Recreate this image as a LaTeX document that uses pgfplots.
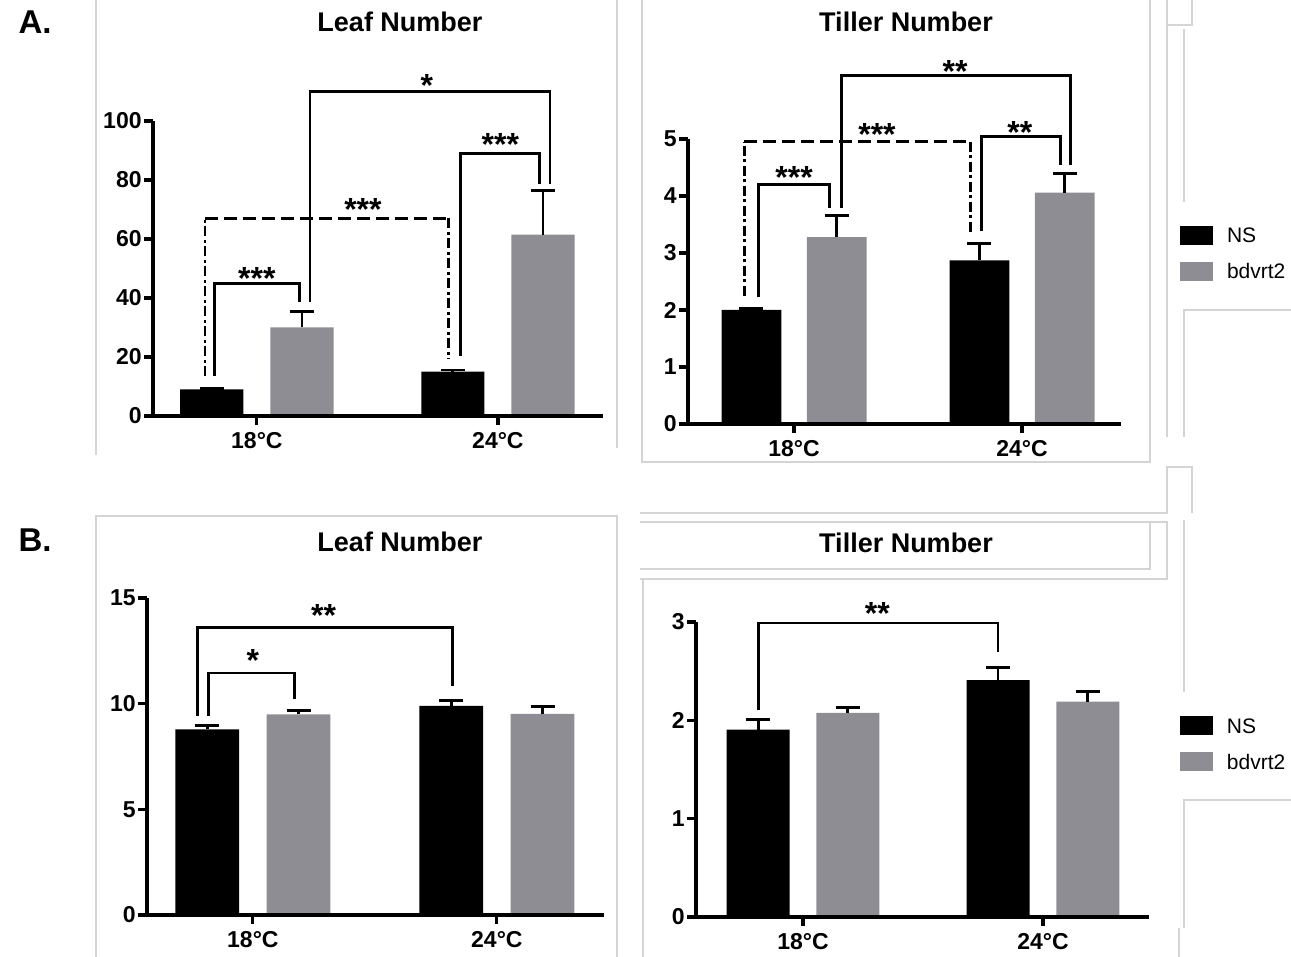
\documentclass[border=0pt]{standalone}
\usepackage{fontspec}
\setmainfont{Liberation Sans}
\usepackage{pgfplots}
\pgfplotsset{compat=1.18}
\definecolor{bargray}{RGB}{141,141,147}
\definecolor{framegray}{RGB}{212,212,212}

\pgfplotsset{
  gpstyle/.style={
    scale only axis,
    anchor=south west,
    axis lines=left,
    axis line style={line width=1.6pt,-},
    axis on top,
    clip=false,
    ymin=0,
    xtick={0,1},
    xticklabels={18°C,24°C},
    tick align=outside,
    major tick length=4.5pt,
    every tick/.style={line width=1.6pt,black},
    minor tick num=0,
    ticklabel style={font=\bfseries\fontsize{11.5}{12}\selectfont},
    yticklabel style={inner xsep=1pt},
    /pgf/number format/assume math mode=true,
    ybar, bar width=0.262,
    error bars/y dir=plus,
    error bars/y explicit,
    error bars/error bar style={draw=black,line width=1.4pt,solid},
    error bars/error mark options={rotate=90,draw=black,line width=1.4pt,mark size=6pt,solid},
    legend cell align=left,
    legend style={draw=none,fill=none,inner sep=0pt,outer sep=0pt,
      row sep=8.5pt,column sep=7pt,
      font=\fontsize{10.5}{11}\selectfont,
      nodes={inner sep=0pt,text height=8pt,text depth=1pt}},
  },
  nsbar/.style={fill=black,draw=none,bar shift=-0.187,
    legend image code/.code={\fill[black] (0pt,-4.5pt) rectangle (16.5pt,5pt);}},
  bdbar/.style={fill=bargray,draw=none,bar shift=0.187,
    legend image code/.code={\fill[bargray] (0pt,-4.5pt) rectangle (16.5pt,5pt);}},
}
\tikzset{
  brk/.style={line width=1.4pt,line join=miter},
  dbrkh/.style={line width=1.4pt,dash pattern=on 6.5pt off 3pt},
  dbrkv/.style={line width=1.4pt,dash pattern=on 5pt off 1.8pt on 1.4pt off 1.8pt},
  star/.style={font=\bfseries\fontsize{16}{16}\selectfont,anchor=base,yshift=-9.2pt,inner sep=0pt},
}

\begin{document}
\begin{tikzpicture}

% ---------- A: Leaf Number ----------
\begin{axis}[gpstyle,at={(76.5pt,270.5pt)},width=225pt,height=147.5pt,
  xmin=-0.431,xmax=1.436,ymax=100,ytick={0,20,40,60,80,100}]
\addplot[nsbar] coordinates {(0,9) +- (0,0.3) (1,15) +- (0,0.6)};
\addplot[bdbar] coordinates {(0,30) +- (0,5.5) (1,61.5) +- (0,15)};
\draw[brk] (axis cs:-0.177,13.5) -- (axis cs:-0.177,45) -- (axis cs:0.177,45) -- (axis cs:0.177,38.5);
\draw[dbrkv] (axis cs:-0.215,13.5) -- (axis cs:-0.215,67);
\draw[dbrkh] (axis cs:-0.215,67) -- (axis cs:0.794,67);
\draw[dbrkv] (axis cs:0.794,67) -- (axis cs:0.794,19.5);
\draw[brk] (axis cs:0.22,38.5) -- (axis cs:0.22,110) -- (axis cs:1.216,110) -- (axis cs:1.216,78.5);
\draw[brk] (axis cs:0.845,20.5) -- (axis cs:0.845,89) -- (axis cs:1.174,89) -- (axis cs:1.174,78.5);
\node[star] at (axis cs:0,49) {***};
\node[star] at (axis cs:0.44,72.5) {***};
\node[star] at (axis cs:0.705,114.5) {*};
\node[star] at (axis cs:1.01,94.5) {***};
\end{axis}

% ---------- A: Tiller Number ----------
\begin{axis}[gpstyle,at={(344pt,266.5pt)},width=216.5pt,height=142.5pt,
  xmin=-0.465,xmax=1.434,ymax=5,ytick={0,1,2,3,4,5},
  legend style={at={(axis description cs:1.1363,0.695)},anchor=north west}]
\addplot[nsbar] coordinates {(0,2.0) +- (0,0.02) (1,2.87) +- (0,0.29)};
\addlegendentry{NS}
\addplot[bdbar] coordinates {(0,3.28) +- (0,0.38) (1,4.06) +- (0,0.33)};
\addlegendentry{bdvrt2}
\draw[brk] (axis cs:-0.155,2.22) -- (axis cs:-0.155,4.2) -- (axis cs:0.155,4.2) -- (axis cs:0.155,3.79);
\draw[dbrkv] (axis cs:-0.218,2.25) -- (axis cs:-0.218,4.95);
\draw[dbrkh] (axis cs:-0.218,4.95) -- (axis cs:0.773,4.95);
\draw[dbrkv] (axis cs:0.773,4.95) -- (axis cs:0.773,3.33);
\draw[brk] (axis cs:0.209,3.79) -- (axis cs:0.209,6.12) -- (axis cs:1.213,6.12) -- (axis cs:1.213,4.55);
\draw[brk] (axis cs:0.822,3.38) -- (axis cs:0.822,5.05) -- (axis cs:1.167,5.05) -- (axis cs:1.167,4.55);
\node[star] at (axis cs:0,4.45) {***};
\node[star] at (axis cs:0.364,5.21) {***};
\node[star] at (axis cs:0.706,6.32) {**};
\node[star] at (axis cs:0.99,5.24) {**};
\end{axis}

% ---------- B: Leaf Number ----------
\begin{axis}[gpstyle,at={(73.5pt,21pt)},width=228.5pt,height=158.5pt,
  xmin=-0.434,xmax=1.439,ymax=15,ytick={0,5,10,15}]
\addplot[nsbar] coordinates {(0,8.78) +- (0,0.2) (1,9.9) +- (0,0.24)};
\addplot[bdbar] coordinates {(0,9.49) +- (0,0.19) (1,9.52) +- (0,0.35)};
\draw[brk] (axis cs:-0.183,9.43) -- (axis cs:-0.183,11.45) -- (axis cs:0.172,11.45) -- (axis cs:0.172,10.22);
\draw[brk] (axis cs:-0.228,9.43) -- (axis cs:-0.228,13.62) -- (axis cs:0.817,13.62) -- (axis cs:0.817,10.82);
\node[star] at (axis cs:0,12.4) {*};
\node[star] at (axis cs:0.29,14.5) {**};
\end{axis}

% ---------- B: Tiller Number ----------
\begin{axis}[gpstyle,at={(348pt,20pt)},width=226.5pt,height=147.5pt,
  xmin=-0.446,xmax=1.442,ymax=3,ytick={0,1,2,3},
  legend style={at={(axis description cs:1.0684,0.681)},anchor=north west}]
\addplot[nsbar] coordinates {(0,1.905) +- (0,0.10) (1,2.41) +- (0,0.13)};
\addlegendentry{NS}
\addplot[bdbar] coordinates {(0,2.075) +- (0,0.055) (1,2.19) +- (0,0.10)};
\addlegendentry{bdvrt2}
\draw[brk] (axis cs:-0.185,2.10) -- (axis cs:-0.185,2.99) -- (axis cs:0.813,2.99) -- (axis cs:0.813,2.69);
\node[star] at (axis cs:0.31,3.16) {**};
\end{axis}

% ---------- titles, panel letters, faint frames (pixel coordinates) ----------
\begin{scope}[x=0.5pt,y=-0.5pt,yshift=478.5pt]
  \begin{scope}[draw=framegray,line width=0.6pt]
    \draw (96,0) -- (96,455);
    \draw (617,0) -- (617,448);
    \draw (642,0) -- (642,462) -- (1150,462) -- (1150,0);
    \draw (1167,0) -- (1167,437);
    \draw (1167,25) -- (1192,25) -- (1192,0);
    \draw (1184,29) -- (1184,202);
    \draw (1291,310) -- (1184,310) -- (1184,437);
    \draw (640,513) -- (1167,513) -- (1167,467) -- (1192,467) -- (1192,513);
    \draw (640,522) -- (1167,522) -- (1167,579) -- (640,579);
    \draw (640,569) -- (1150,569) -- (1150,522);
    \draw (643,579) -- (643,957);
    \draw (1184,520) -- (1184,692);
    \draw (1291,800) -- (1184,800) -- (1184,928);
    \draw (1179,928) -- (1179,957);
    \draw (96,957) -- (96,516) -- (617,516) -- (617,957);
  \end{scope}
  \node[font=\bfseries\fontsize{13.5}{14}\selectfont] at (400,22) {Leaf Number};
  \node[font=\bfseries\fontsize{13.5}{14}\selectfont] at (906,22) {Tiller Number};
  \node[font=\bfseries\fontsize{13.5}{14}\selectfont] at (400,542) {Leaf Number};
  \node[font=\bfseries\fontsize{13.5}{14}\selectfont] at (906,543) {Tiller Number};
  \node[font=\bfseries\fontsize{16.5}{17}\selectfont] at (35,22) {A.};
  \node[font=\bfseries\fontsize{16.5}{17}\selectfont] at (35,540) {B.};
\end{scope}

\pgfresetboundingbox
\path (0,0) rectangle (645.5pt,478.5pt);
\end{tikzpicture}
\end{document}
